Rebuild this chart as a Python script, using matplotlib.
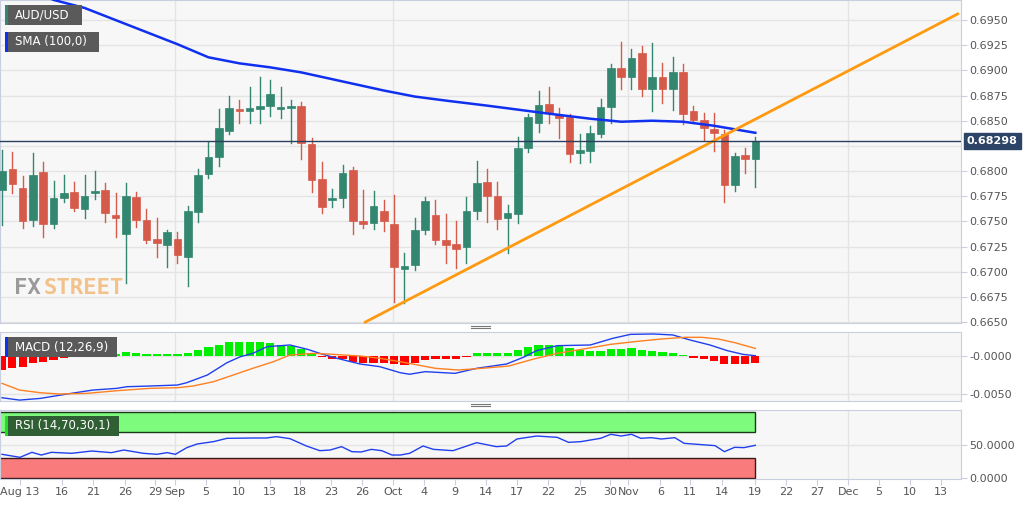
import matplotlib
matplotlib.use("Agg")
import matplotlib.pyplot as plt
from matplotlib.patches import Rectangle
import numpy as np

opens = [.6781,.6802,.6783,.6751,.6799,.6747,.6773,.6779,.6762,.6778,
 .6781,.6756,.6737,.6774,.6751,.6733,.6727,.6733,.6715,.6759,
 .6797,.6814,.6840,.6862,.6860,.6862,.6865,.6862,.6863,.6865,
 .6827,.6792,.6771,.6773,.6801,.6750,.6748,.6760,.6747,.6703,
 .6707,.6741,.6756,.6732,.6728,.6725,.6760,.6789,.6775,.6753,
 .6757,.6823,.6848,.6867,.6856,.6854,.6818,.6820,.6837,.6864,
 .6902,.6893,.6917,.6882,.6893,.6882,.6898,.6860,.6851,.6842,
 .6837,.6786,.6816,.6812]
closes = [.6800,.6787,.6750,.6796,.6747,.6773,.6778,.6763,.6775,.6780,
 .6758,.6753,.6775,.6751,.6732,.6729,.6739,.6717,.6760,.6796,
 .6814,.6843,.6863,.6860,.6863,.6865,.6877,.6863,.6865,.6828,
 .6791,.6764,.6773,.6798,.6750,.6747,.6765,.6750,.6705,.6706,
 .6741,.6770,.6732,.6727,.6723,.6760,.6788,.6775,.6752,.6758,
 .6823,.6854,.6866,.6858,.6853,.6817,.6821,.6838,.6864,.6902,
 .6893,.6912,.6882,.6893,.6882,.6898,.6857,.6851,.6843,.6838,
 .6786,.6815,.6812,.68298]
highs = [.6821,.6819,.6795,.6818,.6809,.6790,.6796,.6789,.6796,.6800,
 .6788,.6778,.6788,.6779,.6762,.6753,.6741,.6739,.6765,.6802,
 .6829,.6862,.6875,.6871,.6883,.6893,.6890,.6883,.6871,.6869,
 .6833,.6809,.6782,.6806,.6804,.6781,.6780,.6771,.6776,.6719,
 .6753,.6774,.6771,.6757,.6750,.6774,.6810,.6802,.6789,.6766,
 .6834,.6857,.6880,.6883,.6863,.6857,.6837,.6845,.6872,.6906,
 .6928,.6921,.6924,.6927,.6907,.6913,.6906,.6865,.6858,.6858,
 .6841,.6818,.6823,.6834]
lows = [.6746,.6778,.6743,.6745,.6735,.6743,.6769,.6760,.6753,.6772,
 .6749,.6735,.6689,.6744,.6729,.6715,.6705,.6709,.6686,.6749,
 .6793,.6805,.6837,.6848,.6848,.6848,.6855,.6853,.6828,.6812,
 .6779,.6758,.6764,.6764,.6737,.6743,.6742,.6740,.6670,.6669,
 .6702,.6737,.6728,.6709,.6704,.6709,.6752,.6749,.6742,.6719,
 .6748,.6819,.6839,.6848,.6833,.6809,.6808,.6809,.6834,.6848,
 .6882,.6882,.6875,.6860,.6868,.6861,.6847,.6848,.6831,.6820,
 .6769,.6780,.6798,.6784]

sma_x = [0,5,8,12,17,20,23,26,29,33,37,40,43,47,50,53,57,60,63,66,69,73]
sma_y = [.6992,.6970,.6962,.6946,.6926,.6913,.6907,.6903,.6898,.6889,.6880,.6874,
         .6870,.6865,.6861,.6857,.6852,.6849,.6850,.6849,.6845,.6838]

trend_x = [35.2, 92.6]
trend_y = [0.6650, 0.6956]

last_price = 0.68298

macd_hist = [-.00184,-.00154,-.0014,-.00088,-.00083,-.00053,-.00022,-.00005,.0001,.0002,
 .0003,.0003,.0005,.00035,.0003,.0003,.0002,.0002,.00045,.0008,
 .0012,.0015,.0018,.0019,.0019,.0018,.0017,.0015,.0013,.0009,
 .00045,-.0001,-.00045,-.00045,-.00075,-.0009,-.0009,-.0009,-.0011,-.0012,
 -.00095,-.0005,-.00045,-.00045,-.0004,-.0001,.00035,.00045,.00035,.00035,
 .0008,.00115,.00145,.00145,.00135,.001,.0008,.0007,.0007,.0009,
 .0009,.001,.0008,.00065,.0005,.0004,.0001,-.0002,-.00045,-.00065,
 -.0011,-.0011,-.0011,-.00095]
macd_x = [0,1.7,3.7,6.3,8.8,11.1,12.1,14.3,17,17.9,19.9,21.8,23.1,24.3,25.7,27.9,29.6,30.8,32.1,
 34.7,36.6,38.6,39.5,41,43.9,46,48.9,50.5,51.8,53.8,57,59.2,60.9,63.1,65,66.7,68.6,70.3,71.8,73]
macd_y = [-.00549,-.0058,-.00558,-.0050,-.00448,-.00426,-.00404,-.00395,-.00382,-.00351,-.0025,
 -.00088,-.00009,.00035,.00123,.00145,.00088,.00035,-.00018,-.00105,-.0014,-.0022,-.0024,
 -.00206,-.00228,-.00162,-.00105,-.00018,.0007,.00136,.00145,.00233,.00285,.0029,.00277,
 .0021,.00145,.0007,.00022,.00004]
sig_x = [0,1.7,3.7,5.6,8.2,11.1,14.3,17,18.5,20.5,22.4,24.3,26.3,27.9,30.2,32.1,34.7,36.6,38.6,
 42,44.2,46.5,49.1,51.4,53.8,56.7,59,61.3,63.9,66.2,67.8,69.4,71,73]
sig_y = [-.0036,-.00448,-.00483,-.0050,-.00492,-.00457,-.00426,-.00417,-.00395,-.00338,-.0025,
 -.00162,-.00075,.00013,.00035,.00022,0,-.0003,-.00075,-.00162,-.00184,-.00162,-.00132,
 -.00044,.00035,.001,.00154,.00189,.00224,.00246,.00246,.00224,.00176,.001]

rsi_x = [0,1.74,2.9,3.8,4.8,6.75,8.7,10.6,11.8,13.7,15,16,16.8,17.9,18.9,20.5,21.8,24.4,25.6,
 26.6,27.9,29.5,30.8,31.8,32.9,33.9,34.8,35.8,36.8,37.8,38.6,39.5,40.8,41.8,43.7,46,47.9,
 48.9,49.9,51.8,52.8,53.8,54.9,56.1,58,59,60,61,61.9,62.9,63.9,65.2,66.1,69.1,70,71,71.9,73]
rsi_y = [35.9,31.3,38.9,34.8,38.9,37.4,40.9,38.4,42.4,37.4,35.9,38.4,35.9,45.9,51.5,55.1,60.1,
 60.6,60.6,62.6,59.6,48.5,41.4,42.4,47.5,39.9,39.4,43.4,41.4,34.8,34.8,37.4,48.5,43.4,41.4,
 53.5,47.5,48.5,59.1,63.6,62.6,61.6,54.0,55.1,60.1,66.2,63.6,66.2,60.1,61.1,59.1,61.1,52.5,
 49.0,39.9,46.5,46.0,49.5]

tick_labels = ["Aug 13","16","21","26","29","Sep","5","10","13","18","23","26","Oct","4","9",
 "14","17","22","25","30","Nov","6","11","14","19","22","27","Dec","5","10","13"]
tick_pos = [1.74,5.81,8.82,11.92,14.83,16.76,19.77,22.97,25.97,28.88,31.88,34.88,37.89,40.89,
 43.9,46.9,49.9,52.9,56.0,58.9,60.7,63.8,66.7,69.8,73,76,79,82,85,88,91]
month_pos = [16.76, 37.89, 60.7, 82]

price_ticks = [0.6650,0.6675,0.6700,0.6725,0.6750,0.6775,0.6800,0.6850,0.6875,0.6900,0.6925,0.6950]
grid_prices = np.arange(0.6650, 0.6951, 0.0025)

GREEN = "#33866f"; RED = "#d65a4a"; BG = "#f7f7f7"; GRID = "#e4e4e4"; SP = "#c9cfe0"; TXT = "#555555"

fig = plt.figure(figsize=(10.32, 5.05), dpi=100)
W, H = 1032, 505
xl = (-0.194, 92.93)
def mkax(top, bottom):
    ax = fig.add_axes([0, 1 - bottom / H, 961 / W, (bottom - top) / H])
    ax.set_facecolor(BG)
    for s in ax.spines.values():
        s.set_color(SP)
    ax.set_xlim(*xl)
    ax.yaxis.tick_right()
    ax.tick_params(axis="y", colors=SP, labelcolor=TXT, labelsize=8, length=4, pad=2)
    for m in month_pos:
        ax.axvline(m, color=GRID, lw=1, zorder=0)
    return ax

ax = mkax(0, 323)
ax.set_ylim(0.66491, 0.69699)
for g in grid_prices:
    ax.axhline(g, color=GRID, lw=1, zorder=0)
ax.set_yticks(price_ticks)
ax.set_yticklabels([f"{v:.4f}" for v in price_ticks])
ax.set_xticks([])
for i, (o, h, l, c) in enumerate(zip(opens, highs, lows, closes)):
    col = GREEN if c >= o else RED
    ax.plot([i, i], [l, h], color=col, lw=1, zorder=2)
    b = max(abs(c - o), 0.00012)
    ax.add_patch(Rectangle((i - 0.37, min(o, c)), 0.74, b, facecolor=col, edgecolor=col, lw=0.5, zorder=3))
ax.plot(sma_x, sma_y, color="#1030f0", lw=1.8, zorder=4)
ax.plot(trend_x, trend_y, color="#ff9a10", lw=2, zorder=4, clip_on=False)
ax.axhline(last_price, color="#2c3e60", lw=1, zorder=5)
ax.text(93.5, last_price, f"{last_price:.5f}", color="white", fontsize=8, fontweight="bold",
        va="center", ha="left", bbox=dict(boxstyle="square,pad=0.25", fc="#2c4466", ec="#2c4466"),
        clip_on=False)
ax.text(1.2, 0.66835, "FX", fontsize=16, fontweight="bold", color="#9a9a9a", family="DejaVu Sans Mono",
        va="center", ha="left")
ax.text(4.0, 0.66835, "STREET", fontsize=16, fontweight="bold", color="#f2c28a", family="DejaVu Sans Mono",
        va="center", ha="left")

def label(axx, ypx, w, text, bar):
    fig.patches.append(Rectangle((5 / W, 1 - (ypx + 20) / H), w / W, 20 / H, transform=fig.transFigure,
                                 facecolor="#5a5a5a", edgecolor="none", zorder=10))
    fig.patches.append(Rectangle((5 / W, 1 - (ypx + 20) / H), 2.5 / W, 20 / H, transform=fig.transFigure,
                                 facecolor=bar, edgecolor="none", zorder=11))
    fig.text(15 / W, 1 - (ypx + 10) / H, text, color="white", fontsize=8.5, va="center", ha="left", zorder=12)

label(ax, 5, 77, "AUD/USD", GREEN)
label(ax, 32, 94, "SMA (100,0)", "#1030f0")

# MACD
ax2 = mkax(332, 401)
ax2.set_ylim(-0.00592, 0.00316)
ax2.set_xticks([])
for g in [0, -0.005]:
    ax2.axhline(g, color=GRID, lw=1, zorder=0)
ax2.set_yticks([0, -0.005])
ax2.set_yticklabels(["-0.0000", "-0.0050"])
hx = np.arange(len(macd_hist))
ax2.bar(hx, macd_hist, width=0.8, color=["#00ee00" if v >= 0 else "#ff0000" for v in macd_hist], zorder=2)
ax2.plot(macd_x, macd_y, color="#2040ee", lw=1, zorder=3)
ax2.plot(sig_x, sig_y, color="#ff8020", lw=1, zorder=3)
label(ax2, 337, 112, "MACD (12,26,9)", "#1030f0")

# RSI
ax3 = mkax(410, 479)
ax3.set_ylim(-1.5, 103)
ax3.axhline(50, color=GRID, lw=1, zorder=0)
ax3.add_patch(Rectangle((-0.5, 70), 73.5, 30, facecolor="#7dfb7d", edgecolor="#1a3a1a", lw=1, zorder=1))
ax3.add_patch(Rectangle((-0.5, 0), 73.5, 30, facecolor="#fa7b7b", edgecolor="#3a1a1a", lw=1, zorder=1))
ax3.plot(rsi_x, rsi_y, color="#2040ee", lw=1, zorder=3)
ax3.set_yticks([50, 0])
ax3.set_yticklabels(["50.0000", "0.0000"])
ax3.set_xticks(tick_pos)
ax3.set_xticklabels(tick_labels)
ax3.tick_params(axis="x", colors=SP, labelcolor=TXT, labelsize=8, length=4, pad=2)
fig.patches.append(Rectangle((5 / W, 1 - 436 / H), 114 / W, 20 / H, transform=fig.transFigure,
                             facecolor="#2f5f33", edgecolor="none", zorder=10))
fig.patches.append(Rectangle((5 / W, 1 - 436 / H), 2.5 / W, 20 / H, transform=fig.transFigure,
                             facecolor="#22dd22", edgecolor="none", zorder=11))
fig.text(15 / W, 1 - 426 / H, "RSI (14,70,30,1)", color="white", fontsize=8.5, va="center", ha="left", zorder=12)

for yy in [327, 405]:
    for d in (-1.2, 1.2):
        fig.lines.append(plt.Line2D([471 / W, 490 / W], [1 - (yy + d) / H] * 2, transform=fig.transFigure,
                                    color="#777777", lw=0.8))

fig.savefig("out.png", dpi=100, facecolor="white")
